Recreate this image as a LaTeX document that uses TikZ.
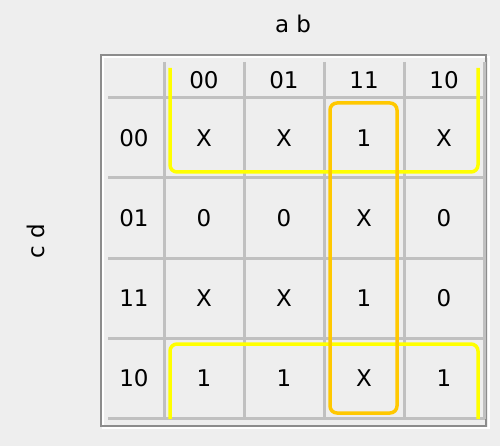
\documentclass[tikz,border=0pt]{standalone}
\usepackage{fontspec}
\setmainfont{DejaVu Sans}
\usepackage{tikz}
\usetikzlibrary{positioning}
\definecolor{bg}{RGB}{238,238,238}
\definecolor{gridgray}{RGB}{192,192,192}
\definecolor{framegray}{RGB}{140,140,140}
\definecolor{kyellow}{RGB}{255,255,0}
\definecolor{korange}{RGB}{255,200,0}

\begin{document}
\begin{tikzpicture}[x=1pt,y=-1pt,
    cell/.style={inner sep=0pt,anchor=center,font=\fontsize{23}{27}\selectfont},
    gridline/.style={gridgray,line width=3pt},
    groupline/.style={line width=3.5pt,rounded corners=7pt}]

  \useasboundingbox[fill=bg] (0,0) rectangle (500,446);

  % frame
  \draw[white,line width=2pt] (103,57) rectangle (489,428);
  \draw[framegray,line width=2pt] (101,55) rectangle (486,426);

  % grid
  \foreach \y in {98,178,258,338,418}
    \draw[gridline] (108,\y) -- (485,\y);
  \foreach \x in {164,244,324,404,484}
    \draw[gridline] (\x,62) -- (\x,419);

  % variable names
  \node[cell] (ab) at (293,24) {a b};
  \node[cell,rotate=90] (cd) at (36,241) {c d};

  % headers
  \foreach \t [count=\i] in {00,01,11,10} {
    \node[cell] (col\i) at (124+80*\i,80) {\t};
    \node[cell] (row\i) at (134,58+80*\i) {\t};
  }

  % cells
  \foreach \a/\b/\c/\d [count=\r] in {X/X/1/X, 0/0/X/0, X/X/1/0, 1/1/X/1} {
    \node[cell] (m\r1) at (204,58+80*\r) {\a};
    \node[cell] (m\r2) at (284,58+80*\r) {\b};
    \node[cell] (m\r3) at (364,58+80*\r) {\c};
    \node[cell] (m\r4) at (444,58+80*\r) {\d};
  }

  % groups
  \draw[groupline,kyellow] (170,68) -- (170,172) -- (478,172) -- (478,68);
  \draw[groupline,kyellow] (170,419) -- (170,344) -- (478,344) -- (478,419);
  \draw[groupline,korange] (330,103) rectangle (397,413);

\end{tikzpicture}
\end{document}
